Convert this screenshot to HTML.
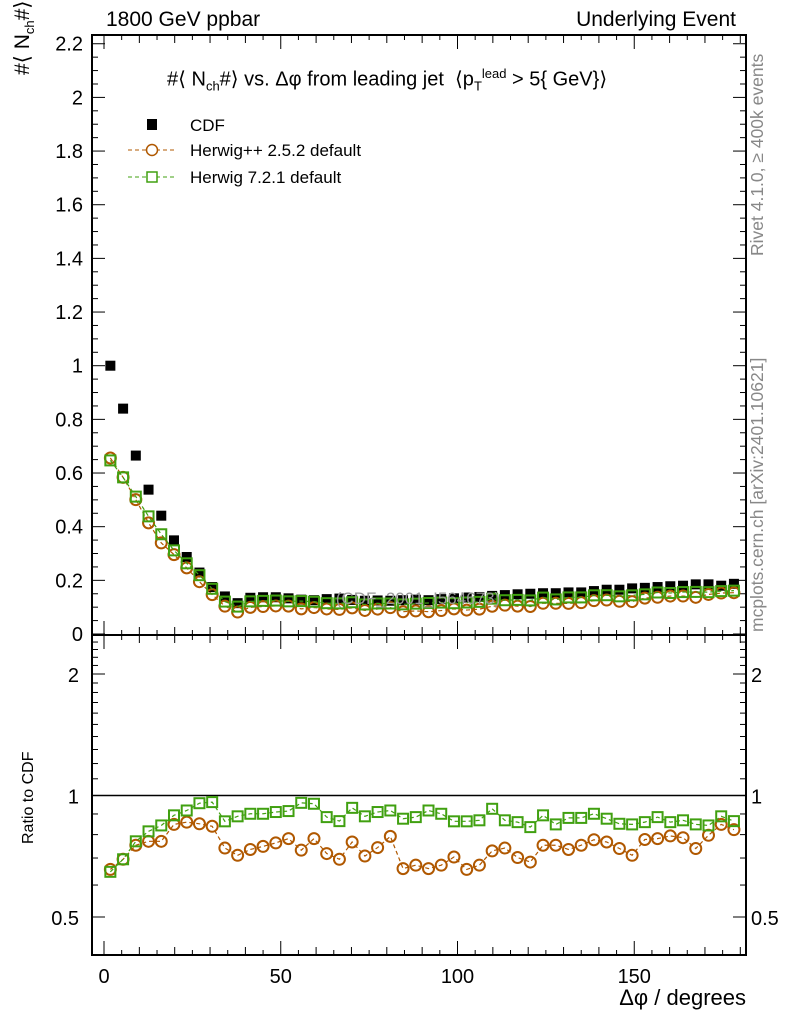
<!DOCTYPE html>
<html><head><meta charset="utf-8"><style>
body{margin:0;background:#fff;}
svg{display:block;font-family:"Liberation Sans",sans-serif;}
</style></head><body>
<svg id="chart" width="786" height="1024" viewBox="0 0 786 1024"></svg>
<script>
const binCenters=[1.8,5.4,9,12.6,16.2,19.8,23.4,27,30.6,34.2,37.8,41.4,45,48.6,52.2,55.8,59.4,63,66.6,70.2,73.8,77.4,81,84.6,88.2,91.8,95.4,99,102.6,106.2,109.8,113.4,117,120.6,124.2,127.8,131.4,135,138.6,142.2,145.8,149.4,153,156.6,160.2,163.8,167.4,171,174.6,178.2];
const cdfValues=[1.0,0.84,0.665,0.538,0.441,0.349,0.287,0.229,0.175,0.14,0.115,0.135,0.137,0.137,0.133,0.128,0.126,0.13,0.132,0.127,0.124,0.125,0.124,0.126,0.128,0.126,0.13,0.133,0.136,0.138,0.142,0.145,0.148,0.15,0.152,0.152,0.155,0.155,0.16,0.165,0.165,0.17,0.172,0.175,0.178,0.18,0.185,0.185,0.18,0.187];
const herwigppRatio=[0.656,0.695,0.753,0.770,0.770,0.848,0.859,0.851,0.839,0.741,0.711,0.735,0.748,0.763,0.782,0.732,0.782,0.718,0.695,0.767,0.708,0.743,0.792,0.659,0.672,0.659,0.672,0.704,0.656,0.672,0.729,0.741,0.702,0.684,0.753,0.753,0.735,0.753,0.777,0.767,0.739,0.711,0.778,0.782,0.794,0.786,0.739,0.797,0.848,0.823];
const herwig7Ratio=[0.647,0.695,0.770,0.815,0.843,0.893,0.918,0.957,0.963,0.863,0.888,0.901,0.901,0.910,0.915,0.959,0.954,0.884,0.864,0.932,0.888,0.910,0.918,0.876,0.884,0.918,0.901,0.863,0.863,0.868,0.927,0.868,0.859,0.835,0.893,0.848,0.880,0.880,0.901,0.876,0.851,0.848,0.859,0.884,0.859,0.868,0.848,0.843,0.888,0.864];
const mainTicks=["0","0.2","0.4","0.6","0.8","1","1.2","1.4","1.6","1.8","2","2.2"];
const ratioTicks=["0.5","1","2"];
const xTicks=["0","50","100","150"];

const svg=document.getElementById('chart');
const NS='http://www.w3.org/2000/svg';
const L=92,R=746,T=35,MB=635,RB=955;
const X=v=>104+v*3.535;
const Y=v=>634-v*268.3;
const YR=v=>795.5-Math.log2(v)*121.5;
const ORG='#b05800',GRN='#40a010';
function mk(tag,attrs,parent){const e=document.createElementNS(NS,tag);for(const k in attrs)e.setAttribute(k,attrs[k]);(parent||svg).appendChild(e);return e;}
function txt(s,x,y,size,anchor,fill,parent){const t=mk('text',{x:x,y:y,'font-size':size,'text-anchor':anchor||'start',fill:fill||'#000'},parent);t.textContent=s;return t;}

const mf=mk('rect',{x:L,y:T,width:R-L,height:MB-T,fill:'none',stroke:'#000','stroke-width':2});


const rf=mk('rect',{x:L,y:MB,width:R-L,height:RB-MB,fill:'none',stroke:'#000','stroke-width':2});



const gy=mk('g',{stroke:'#000','stroke-width':1});


for(let v=0;v<=2.25;v+=0.05){const major=Math.abs(v/0.2-Math.round(v/0.2))<1e-6;const len=major?13:6;const y=Y(v);if(y<T)continue;mk('line',{x1:L,y1:y,x2:L+len,y2:y},gy);mk('line',{x1:R,y1:y,x2:R-len,y2:y},gy);}
mainTicks.forEach(s=>{const t=txt(s,83,Y(parseFloat(s))+7,20,'end');});

const gr=mk('g',{stroke:'#000','stroke-width':1});


[0.5,0.6,0.7,0.8,0.9,1,2].forEach(v=>{const len=(v==0.5||v==1||v==2)?13:6;mk('line',{x1:L,y1:YR(v),x2:L+len,y2:YR(v)},gr);mk('line',{x1:R,y1:YR(v),x2:R-len,y2:YR(v)},gr);});
for(let v=1.1;v<2.45;v+=0.1){if(Math.abs(v-2)<1e-6)continue;const len=6;mk('line',{x1:L,y1:YR(v),x2:L+len,y2:YR(v)},gr);mk('line',{x1:R,y1:YR(v),x2:R-len,y2:YR(v)},gr);}
ratioTicks.forEach(s=>{const v=parseFloat(s);const t=txt(s,79,YR(v)+8,20,'end');const t2=txt(s,751,YR(v)+8,20,'start');});

const gx=mk('g',{stroke:'#000','stroke-width':1});


for(let d=0;d<=180;d+=5){const len=d%50==0?14:(d%10==0?8:5);const x=X(d);[[MB,-1],[MB,1],[RB,-1],[T,1]].forEach(([y,s])=>mk('line',{x1:x,y1:y,x2:x,y2:y+s*len},gx));}
xTicks.forEach(s=>{const t=txt(s,X(parseFloat(s)),983,20,'middle');});

const ul=mk('line',{x1:L,y1:YR(1),x2:R,y2:YR(1),stroke:'#000','stroke-width':1.5});



function series(vals,yf,color,shape,name){
  const g=mk('g',{});
  
  
  mk('polyline',{points:vals.map((v,i)=>X(binCenters[i])+','+yf(v)).join(' '),fill:'none',stroke:color,'stroke-width':1.2,'stroke-dasharray':'4,3'},g);
  vals.forEach((v,i)=>{const x=X(binCenters[i]),y=yf(v);let m;
    if(shape=='circle')m=mk('circle',{cx:x,cy:y,r:5.5,fill:'none',stroke:color,'stroke-width':2},g);
    else m=mk('rect',{x:x-5,y:y-5,width:10,height:10,fill:'none',stroke:color,'stroke-width':2},g);
    
    
  });
}
const mainHpp=cdfValues.map((c,i)=>c*herwigppRatio[i]);
const mainH7=cdfValues.map((c,i)=>c*herwig7Ratio[i]);
const gc=mk('g',{fill:'#000'});


cdfValues.forEach((v,i)=>{const r=mk('rect',{x:X(binCenters[i])-5,y:Y(v)-5,width:10,height:10},gc);});
series(mainHpp,Y,ORG,'circle','herwigpp-main-series');
series(mainH7,Y,GRN,'square','herwig7-main-series');
series(herwigppRatio,YR,ORG,'circle','herwigpp-ratio-series');
series(herwig7Ratio,YR,GRN,'square','herwig7-ratio-series');

const wm=txt('(CDF_2001_I564673)',418,604,17,'middle','#999');



const lg=mk('g',{});


mk('rect',{x:147,y:119,width:10,height:11,fill:'#000'},lg);
txt('CDF',190,131,17,'start','#000',lg);
mk('line',{x1:128,y1:150,x2:176,y2:150,stroke:ORG,'stroke-dasharray':'4,3'},lg);
mk('circle',{cx:152,cy:150,r:5.5,fill:'#fff',stroke:ORG,'stroke-width':1.5},lg);
txt('Herwig++ 2.5.2 default',190,156,17,'start','#000',lg);
mk('line',{x1:128,y1:177,x2:176,y2:177,stroke:GRN,'stroke-dasharray':'4,3'},lg);
mk('rect',{x:147,y:172,width:10,height:10,fill:'#fff',stroke:GRN,'stroke-width':1.5},lg);
txt('Herwig 7.2.1 default',190,183,17,'start','#000',lg);
</script>
<div style="position:absolute;left:0;top:0;width:786px;height:1024px;pointer-events:none;font-family:'Liberation Sans',sans-serif;">
<div style="position:absolute;left:106px;top:8px;font-size:21px;">1800 GeV ppbar</div>
<div style="position:absolute;right:50px;top:8px;font-size:21px;">Underlying Event</div>
<div style="position:absolute;left:167px;top:66px;font-size:20px;white-space:nowrap;">#⟨ N<sub style="font-size:13px;">ch</sub>#⟩ vs. Δφ from leading jet &nbsp;⟨p<sub style="font-size:13px;">T</sub><sup style="font-size:13px;">lead</sup> &gt; 5{ GeV}⟩</div>
<div style="position:absolute;left:10px;top:75px;transform:rotate(-90deg);transform-origin:0 0;font-size:21px;white-space:nowrap;">#⟨ N<sub style="font-size:13px;">ch</sub>#⟩</div>
<div style="position:absolute;left:20px;top:844px;transform:rotate(-90deg);transform-origin:0 0;font-size:16px;white-space:nowrap;">Ratio to CDF</div>
<div style="position:absolute;right:40px;top:985px;font-size:22px;">Δφ / degrees</div>
<div style="position:absolute;left:747px;top:256px;transform:rotate(-90deg);transform-origin:0 0;font-size:17.5px;color:#888;white-space:nowrap;">Rivet 4.1.0, ≥ 400k events</div>
<div style="position:absolute;left:747px;top:632px;transform:rotate(-90deg);transform-origin:0 0;font-size:17.5px;color:#888;white-space:nowrap;">mcplots.cern.ch [arXiv:2401.10621]</div>
</div>
</body></html>
